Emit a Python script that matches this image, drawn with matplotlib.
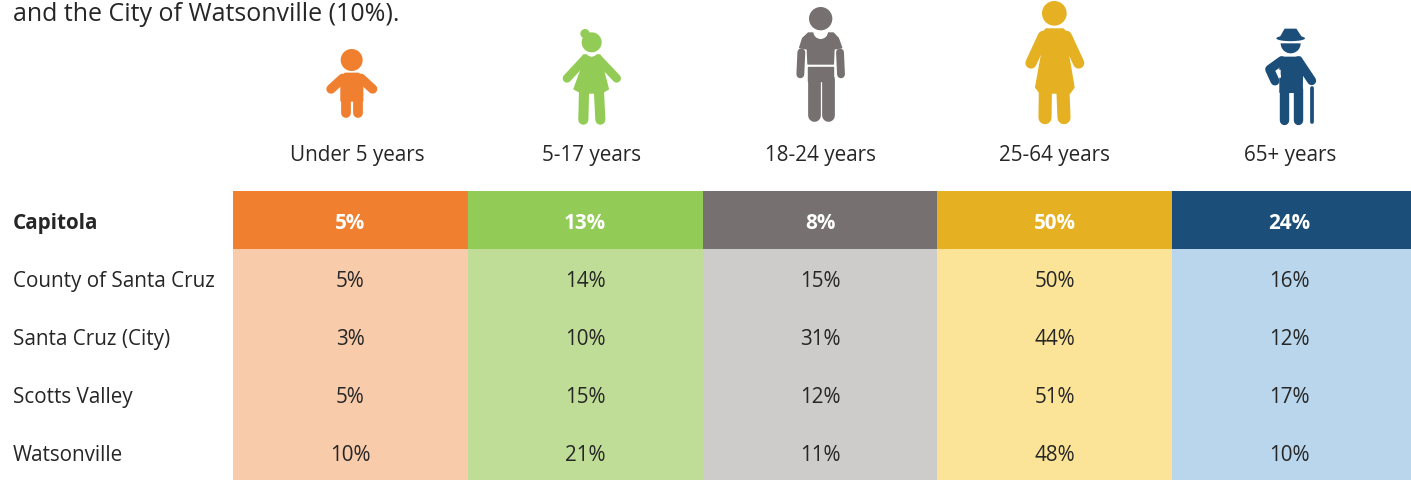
import matplotlib
matplotlib.use('Agg')
import matplotlib.pyplot as plt
from matplotlib.patches import Circle, Polygon, Ellipse, Wedge

plt.rcParams['font.family'] = ['Open Sans', 'DejaVu Sans']

W, H = 1411, 481

# Data
age_groups = ['Under 5 years', '5-17 years', '18-24 years', '25-64 years', '65+ years']
places = ['Capitola', 'County of Santa Cruz', 'Santa Cruz (City)', 'Scotts Valley', 'Watsonville']
capitola = [5, 13, 8, 50, 24]
county = [5, 14, 15, 50, 16]
santa_cruz = [3, 10, 31, 44, 12]
scotts_valley = [5, 15, 12, 51, 17]
watsonville = [10, 21, 11, 48, 10]
rows = [capitola, county, santa_cruz, scotts_valley, watsonville]

# Colors
DARK_COLS = ['#F07F30', '#92CB55', '#767170', '#E5B122', '#1B4E79']
LIGHT_COLS = ['#F8CBAB', '#C0DD98', '#CDCCCB', '#FBE498', '#BAD6EC']
TEXT_COL = '#262626'
FS = 14.9

fig = plt.figure(figsize=(W / 100, H / 100), dpi=100)

# Pixel-coordinate layer for icons and loose text
ax = fig.add_axes([0, 0, 1, 1])
ax.set_xlim(0, W)
ax.set_ylim(H, 0)
ax.axis('off')

# Table cells, last column runs off the right edge of the picture
# (moved down 1px, the bars snap one row too high otherwise)
col_px = (1407 - 233) / 5
tab = fig.add_axes([233 / W, -1 / H, (W - 233) / W, (H - 191) / H])
tab.set_xlim(0, (W - 233) / col_px)
tab.set_ylim(5, 0)
tab.axis('off')

for r, vals in enumerate(rows):
    for c, v in enumerate(vals):
        col = DARK_COLS[c] if r == 0 else LIGHT_COLS[c]
        extra = 4 / col_px if c == 4 else 0
        tab.bar(c, 1, width=1 + extra, bottom=r, align='edge', color=col, linewidth=0)
        tab.text(c + 0.5, r + 0.54, f'{v}%', ha='center', va='center', fontsize=FS,
                 color='white' if r == 0 else TEXT_COL,
                 fontweight='bold' if r == 0 else 'normal')
    ax.text(13, 224 + r * 58, places[r], ha='left', va='center', fontsize=FS, color=TEXT_COL,
            fontweight='bold' if r == 0 else 'normal')

for label, x in zip(age_groups, [357, 591, 820, 1054, 1290]):
    ax.text(x, 156, label, ha='center', va='center', fontsize=FS, color=TEXT_COL)

ax.text(13, 21, 'and the City of Watsonville (10%).', ha='left', va='baseline',
        fontsize=18, color=TEXT_COL)


# Icon helpers, coordinates come from 3x zoom crops
def limb(pts, width, col, ox, oy):
    xs = [ox + p[0] / 3 for p in pts]
    ys = [oy + p[1] / 3 for p in pts]
    # width is in zoomed px, a bit fatter than 1/3 px looks closer
    ax.plot(xs, ys, color=col, lw=width * 0.27, solid_capstyle='round', solid_joinstyle='round')


def poly(pts, col, ox, oy):
    ax.add_patch(Polygon([(ox + p[0] / 3, oy + p[1] / 3) for p in pts], closed=True,
                         facecolor=col, edgecolor=col, lw=1, joinstyle='round'))


def disc(x, y, r, col, ox, oy):
    ax.add_patch(Circle((ox + x / 3, oy + y / 3), r / 3, facecolor=col, edgecolor='none', zorder=3))


def scoop(x, y, r, ox, oy):
    ax.add_patch(Circle((ox + x / 3, oy + y / 3), r / 3, facecolor='white', edgecolor='none', zorder=2.5))


# Toddler
c, ox, oy = DARK_COLS[0], 300, 0
disc(155, 183, 33, c, ox, oy)
poly([(135, 223), (176, 223), (188, 240), (188, 306), (123, 306), (123, 240)], c, ox, oy)
limb([(128, 238), (93, 270)], 25, c, ox, oy)
limb([(183, 238), (218, 270)], 25, c, ox, oy)
limb([(137, 300), (137, 343)], 26, c, ox, oy)
limb([(174, 300), (174, 343)], 26, c, ox, oy)

# Girl
c, ox, oy = DARK_COLS[1], 300, 0
poly([(850, 168), (900, 168), (908, 205), (925, 270), (905, 282), (845, 282), (822, 270), (846, 205)], c, ox, oy)
limb([(855, 180), (801, 238)], 23, c, ox, oy)
limb([(895, 180), (950, 238)], 23, c, ox, oy)
limb([(852, 280), (850, 362)], 27, c, ox, oy)
limb([(897, 280), (901, 362)], 27, c, ox, oy)
scoop(875, 155, 18, ox, oy)
disc(875, 130, 30, c, ox, oy)
disc(855, 104, 14, c, ox, oy)

# Teen
c, ox, oy = DARK_COLS[2], 760, 0
poly([(145, 102), (220, 102), (235, 118), (245, 146), (222, 150), (220, 195), (144, 195), (142, 150), (119, 146), (128, 118)], c, ox, oy)
limb([(124, 160), (121, 226)], 21, c, ox, oy)
limb([(240, 160), (243, 226)], 21, c, ox, oy)
poly([(144, 203), (220, 203), (220, 245), (144, 245)], c, ox, oy)
limb([(161, 240), (161, 347)], 34, c, ox, oy)
limb([(203, 240), (203, 347)], 34, c, ox, oy)
scoop(182, 98, 22, ox, oy)
disc(182, 59, 35, c, ox, oy)

# Woman
c, ox, oy = DARK_COLS[3], 760, 0
disc(883, 43, 37, c, ox, oy)
poly([(858, 90), (910, 90), (928, 110), (925, 165), (942, 265), (930, 282), (840, 282), (827, 265), (845, 165), (840, 110)], c, ox, oy)
limb([(850, 112), (813, 192)], 30, c, ox, oy)
limb([(919, 112), (956, 192)], 30, c, ox, oy)
limb([(856, 280), (855, 356)], 35, c, ox, oy)
limb([(909, 280), (912, 356)], 35, c, ox, oy)

# Man with hat and cane
c, ox, oy = DARK_COLS[4], 1230, 10
ax.add_patch(Ellipse((ox + 182 / 3, oy + 88 / 3), 86 / 3, 17 / 3, facecolor=c, edgecolor='none'))
poly([(165, 61), (198, 61), (213, 84), (152, 84)], c, ox, oy)
ax.add_patch(Wedge((ox + 182 / 3, oy + 103 / 3), 30 / 3, 0, 180, facecolor=c, edgecolor='none'))
poly([(152, 145), (212, 145), (218, 165), (216, 250), (150, 250), (150, 165)], c, ox, oy)
limb([(155, 155), (119, 181), (135, 216)], 24, c, ox, oy)
limb([(205, 155), (245, 215)], 24, c, ox, oy)
limb([(161, 240), (161, 333)], 25, c, ox, oy)
limb([(203, 240), (203, 333)], 25, c, ox, oy)
limb([(247, 238), (247, 340)], 10, c, ox, oy)
poly([(146, 188), (150, 184), (150, 205)], 'white', ox, oy)

fig.savefig('out.png', dpi=100)
plt.close(fig)
